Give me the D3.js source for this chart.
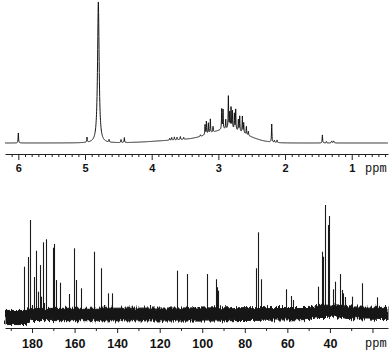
<!DOCTYPE html>
<html><head><meta charset="utf-8">
<script src="https://cdn.jsdelivr.net/npm/d3@7"></script>
<style>html,body{margin:0;padding:0;background:#fff;}svg{display:block}</style>
</head><body>
<script>
// ---------- 1H spectrum (top) ----------
const hTickLabels = [6, 5, 4, 3, 2, 1];
const hPeakPpm = [6.00, 4.97, 4.80, 4.64, 4.46, 4.41, 3.73, 3.70, 3.66, 3.62, 3.57, 3.52, 3.27,
  3.20, 3.18, 3.15, 3.12, 3.08, 2.95, 2.93, 2.89, 2.85, 2.83, 2.81, 2.79, 2.76, 2.74, 2.70, 2.68,
  2.64, 2.62, 2.58, 2.55, 2.20, 2.16, 2.12, 1.44, 1.38, 1.30, 1.27];
const hPeakInt = [7.1, 3.5, 100, 1.8, 2.1, 3.5, 1.4, 1.8, 2.1, 1.8, 2.1, 1.4, 1.1,
  7.1, 9.1, 7.5, 9.9, 4.0, 14.5, 13.9, 6.6, 23.1, 11.3, 15.0, 12.8, 11.3, 14.6, 8.0, 10.8,
  11.5, 7.2, 5.7, 2.8, 12.8, 1.4, 1.8, 5.7, 1.1, 1.4, 1.4];
const hPeakWidth = [0.004, 0.004, 0.014, 0.004, 0.004, 0.004, 0.004, 0.004, 0.004, 0.004, 0.004, 0.004, 0.004,
  0.004, 0.004, 0.004, 0.004, 0.004, 0.004, 0.004, 0.004, 0.004, 0.004, 0.004, 0.004, 0.004, 0.004, 0.004, 0.004,
  0.004, 0.004, 0.004, 0.004, 0.004, 0.004, 0.004, 0.004, 0.004, 0.006, 0.006];
const hBroadPpm = [2.85, 3.55];
const hBroadInt = [9.2, 2.1];
const hBroadSigma = [0.28, 0.40];

// ---------- 13C spectrum (bottom) ----------
const cTickLabels = [180, 160, 140, 120, 100, 80, 60, 40, 20];
const cPeakPpm = [183.6, 181.7, 180.9, 179.9, 178.9, 178.3, 177.0, 176.4, 175.8, 175.0, 174.4, 173.4,
  170.3, 169.5, 168.7, 167.0, 162.6, 160.3, 159.3, 157.1, 151.0, 147.7, 146.2, 144.1, 142.5, 124.5,
  111.7, 107.3, 97.6, 93.5, 92.9, 92.5, 74.7, 73.9, 72.5, 60.8, 58.3, 57.2, 45.5, 43.9, 43.1, 42.5,
  41.0, 40.6, 38.7, 37.6, 35.1, 34.5, 33.7, 32.9, 29.8, 24.9, 18.0];
const cPeakInt = [44.4, 53.2, 86.5, 9.9, 35.1, 58.8, 21.9, 45.9, 17.4, 66.4, 11.7, 69.1,
  61.5, 64.9, 32.4, 30.0, 19.8, 61.0, 32.4, 25.0, 57.9, 43.0, 9.9, 20.4, 20.4, 9.9,
  40.8, 37.8, 37.8, 33.1, 25.9, 22.8, 43.0, 75.4, 33.1, 24.1, 18.0, 14.4, 26.4, 57.9, 53.4, 100,
  82.0, 90.1, 24.1, 30.9, 37.8, 23.4, 20.4, 17.1, 17.4, 29.5, 16.8];
const cBandPpm = [192.7, 182.5, 181.0, 100, 50, 46, 36, 31, 12.7];
const cBandTop = [5.0, 5.0, 6.8, 7.3, 7.7, 9.5, 10.0, 8.2, 7.7];
const cBandBottom = [-7.7, -7.7, -4.1, -4.6, -3.2, -1.4, -1.0, -2.3, -3.2];

const W = 390, H = 352;
const svg = d3.select("body").append("svg").attr("width", W).attr("height", H);

// texture for the noise band (rendering style only)
const defs = svg.append("defs");
const f = defs.append("filter").attr("id", "rough").attr("x", "-2%").attr("y", "-60%").attr("width", "104%").attr("height", "220%");
f.append("feTurbulence").attr("type", "fractalNoise").attr("baseFrequency", "0.9 0.08").attr("numOctaves", 2).attr("seed", 3).attr("result", "n");
f.append("feDisplacementMap").attr("in", "SourceGraphic").attr("in2", "n").attr("scale", 7)
  .attr("xChannelSelector", "B").attr("yChannelSelector", "R");

// ---------- top ----------
const xH = d3.scaleLinear().domain([6.2, 0.456]).range([5, 388]);
const yH = d3.scaleLinear().domain([0, 100]).range([143, 2]);

const hSamples = d3.range(6.2, 0.456, -0.002).concat(hPeakPpm).sort((a, b) => b - a);
const hSpec = hSamples.map(p => {
  let v = 0;
  hPeakPpm.forEach((c, i) => { const g = hPeakWidth[i]; v += hPeakInt[i] * g * g / ((p - c) * (p - c) + g * g); });
  hBroadPpm.forEach((c, i) => { const s = hBroadSigma[i]; v += hBroadInt[i] * Math.exp(-(p - c) * (p - c) / (2 * s * s)); });
  return [p, v];
});
svg.append("path").datum(hSpec)
  .attr("fill", "none").attr("stroke", "#151515").attr("stroke-width", 1)
  .attr("d", d3.line().x(d => xH(d[0])).y(d => yH(d[1])));

const gH = svg.append("g").attr("transform", "translate(0,154)");
gH.call(d3.axisBottom(xH).tickValues(hTickLabels).tickSize(6).tickSizeOuter(0).tickPadding(4).tickFormat(d3.format("d")));
const hMinor = d3.range(5, 62).map(v => v / 10).filter(v => v % 1 !== 0);
gH.append("g").call(d3.axisBottom(xH).tickValues(hMinor).tickSize(3).tickSizeOuter(0).tickFormat(""))
  .select(".domain").remove();
gH.selectAll("text").attr("font-family", "'Liberation Sans', Arial, sans-serif")
  .attr("font-size", 11).attr("font-weight", "bold").attr("fill", "#111");
gH.selectAll("line,path").attr("stroke", "#222");
svg.append("text").attr("x", 365).attr("y", 172).text("ppm")
  .attr("font-family", "'Liberation Mono', 'Courier New', monospace").attr("font-size", 12).attr("fill", "#111");

// ---------- bottom ----------
const xC = d3.scaleLinear().domain([192.7, 12.7]).range([5, 388]);
const yC = d3.scaleLinear().domain([0, 100]).range([316, 205]);

svg.append("g").selectAll("line").data(cPeakPpm).join("line")
  .attr("x1", d => Math.round(xC(d)) + 0.5).attr("x2", d => Math.round(xC(d)) + 0.5)
  .attr("y1", yC(0)).attr("y2", (d, i) => yC(cPeakInt[i]))
  .attr("stroke", "#1a1a1a").attr("stroke-width", 1.1);

const band = cBandPpm.map((p, i) => ({ p, t: cBandTop[i], b: cBandBottom[i] }));
svg.append("path").datum(band).attr("fill", "#141414").attr("stroke", "#141414").attr("stroke-width", 1)
  .attr("filter", "url(#rough)")
  .attr("d", d3.area().x(d => xC(d.p)).y0(d => yC(d.b)).y1(d => yC(d.t)));

const gC = svg.append("g").attr("transform", "translate(0,328)");
gC.call(d3.axisBottom(xC).tickValues(cTickLabels).tickSize(5).tickSizeOuter(0).tickPadding(6)
  .tickFormat(d => d === 20 ? "" : d3.format("d")(d)));
gC.append("g").call(d3.axisBottom(xC).tickValues(d3.range(190, 10, -20)).tickSize(3).tickSizeOuter(0).tickFormat(""))
  .select(".domain").remove();
gC.selectAll("text").attr("font-family", "'Liberation Sans', Arial, sans-serif")
  .attr("font-size", 12.5).attr("font-weight", "bold").attr("fill", "#111");
gC.selectAll("line,path").attr("stroke", "#222");
svg.append("text").attr("x", 365).attr("y", 347).text("ppm")
  .attr("font-family", "'Liberation Mono', 'Courier New', monospace").attr("font-size", 12).attr("fill", "#111");
</script>
</body></html>
